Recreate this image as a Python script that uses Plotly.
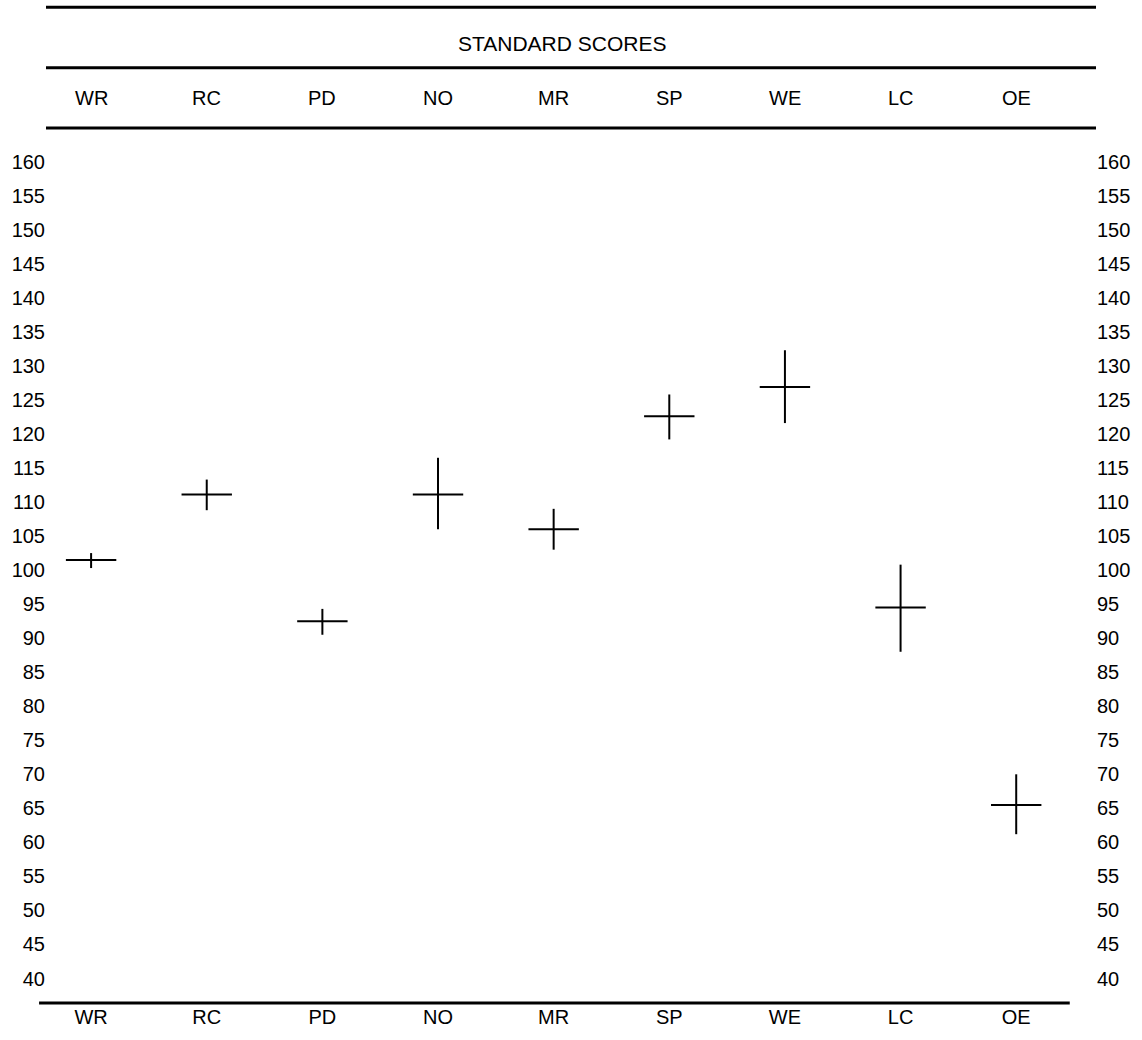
import plotly.graph_objects as go

# ---- data ----
categories = ["WR", "RC", "PD", "NO", "MR", "SP", "WE", "LC", "OE"]
score = [101.5, 111.1, 92.5, 111.1, 106.0, 122.6, 126.9, 94.5, 65.5]
upper = [102.5, 113.3, 94.3, 116.5, 109.0, 125.8, 132.3, 100.8, 70.0]
lower = [100.3, 108.8, 90.5, 106.0, 103.0, 119.2, 121.6, 88.0, 61.2]
y_ticks = list(range(40, 165, 5))
header_title = "STANDARD SCORES"

x = list(range(len(categories)))
err_plus = [u - s for u, s in zip(upper, score)]
err_minus = [s - l for s, l in zip(score, lower)]

FONT = "Liberation Sans, Arial, sans-serif"
INK = "#000000"
FS = 20

fig = go.Figure()
fig.add_trace(go.Scatter(
    x=x, y=score, mode="markers",
    marker=dict(symbol="line-ew", size=36, color=INK, line=dict(width=2, color=INK)),
    error_y=dict(type="data", symmetric=False, array=err_plus, arrayminus=err_minus,
                 width=0, thickness=2, color=INK),
    showlegend=False, hoverinfo="skip"))
# helper trace so the right-hand axis is drawn
fig.add_trace(go.Scatter(x=[x[0]], y=[score[0]], yaxis="y2", mode="markers",
                         marker=dict(opacity=0), showlegend=False, hoverinfo="skip"))

yrange = [36.4, 164.95]
axis_common = dict(showgrid=False, zeroline=False, showline=False, ticks="")

fig.update_layout(
    width=1142, height=1040,
    margin=dict(l=42, r=32, t=128, b=29),
    paper_bgcolor="white", plot_bgcolor="white",
    font=dict(family=FONT, size=FS, color=INK),
    xaxis=dict(range=[-0.39, 8.69], tickmode="array", tickvals=x, ticktext=categories,
               tickfont=dict(size=FS), **axis_common),
    yaxis=dict(range=yrange, tickmode="array", tickvals=y_ticks,
               tickfont=dict(size=FS), **axis_common),
    yaxis2=dict(range=yrange, tickmode="array", tickvals=y_ticks, overlaying="y",
                side="right", tickfont=dict(size=FS), **axis_common),
)

# header rules and bottom rule
for yy in (1.138, 1.069, 1.0):
    fig.add_shape(type="line", xref="paper", yref="paper", x0=0, x1=1, y0=yy, y1=yy,
                  line=dict(color=INK, width=3))
fig.add_shape(type="line", xref="paper", yref="paper", x0=-0.0066, x1=0.975, y0=0, y1=0,
              line=dict(color=INK, width=3))

fig.add_annotation(text=header_title, xref="paper", yref="paper", x=0.4916, y=1.097,
                   showarrow=False, font=dict(size=FS + 1), xanchor="center", yanchor="middle")
for xi, c in zip(x, categories):
    fig.add_annotation(text=c, xref="x", yref="paper", x=xi, y=1.034, showarrow=False,
                       font=dict(size=FS), xanchor="center", yanchor="middle")

fig.write_html(
    "out.html",
    config={"displayModeBar": False},
    post_script="document.body.style.margin='0';document.body.style.overflow='hidden';",
)
